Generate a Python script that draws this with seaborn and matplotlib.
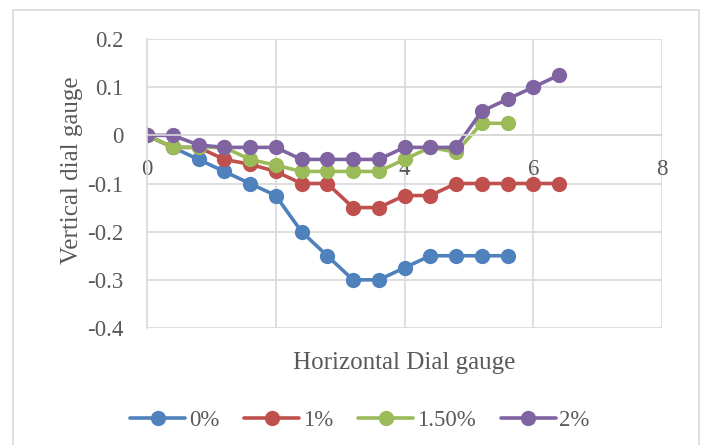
import numpy as np
import pandas as pd
import matplotlib
matplotlib.use('Agg')
import matplotlib.pyplot as plt
import seaborn as sns
from matplotlib.patches import Rectangle

# horizontal dial gauge readings
x_0 = [0, 0.4, 0.8, 1.2, 1.6, 2.0, 2.4, 2.8, 3.2, 3.6, 4.0, 4.4, 4.8, 5.2, 5.6]
x_1 = [0, 0.4, 0.8, 1.2, 1.6, 2.0, 2.4, 2.8, 3.2, 3.6, 4.0, 4.4, 4.8, 5.2, 5.6, 6.0, 6.4]
x_15 = [0, 0.4, 0.8, 1.2, 1.6, 2.0, 2.4, 2.8, 3.2, 3.6, 4.0, 4.4, 4.8, 5.2, 5.6]
x_2 = [0, 0.4, 0.8, 1.2, 1.6, 2.0, 2.4, 2.8, 3.2, 3.6, 4.0, 4.4, 4.8, 5.2, 5.6, 6.0, 6.4]

# vertical dial gauge readings
y_0 = [0, -0.025, -0.05, -0.075, -0.1, -0.125, -0.2, -0.25, -0.3, -0.3, -0.275, -0.25, -0.25, -0.25, -0.25]
y_1 = [0, -0.025, -0.025, -0.05, -0.06, -0.075, -0.1, -0.1, -0.15, -0.15, -0.125, -0.125, -0.1, -0.1, -0.1, -0.1, -0.1]
y_15 = [0, -0.025, -0.025, -0.025, -0.05, -0.062, -0.075, -0.075, -0.075, -0.075, -0.05, -0.025, -0.035, 0.025, 0.025]
y_2 = [0, 0, -0.02, -0.025, -0.025, -0.025, -0.05, -0.05, -0.05, -0.05, -0.025, -0.025, -0.025, 0.05, 0.075, 0.1, 0.125]

labels = ['0%', '1%', '1.50%', '2%']
colors = ['#4F81BD', '#C0504D', '#9BBB59', '#8064A2']

frames = []
for lab, xs, ys in zip(labels, [x_0, x_1, x_15, x_2], [y_0, y_1, y_15, y_2]):
    frames.append(pd.DataFrame({'h': xs, 'v': ys, 'series': lab}))
df = pd.concat(frames, ignore_index=True)

sns.set_style('white')
plt.rcParams['font.family'] = ['Liberation Serif', 'DejaVu Serif']
text_color = '#595959'

fig = plt.figure(figsize=(7.03, 4.45), dpi=100)
ax = fig.add_axes([147 / 703, 1 - 328 / 445, 515 / 703, 289 / 445])

sns.lineplot(data=df, x='h', y='v', hue='series', hue_order=labels, palette=colors,
             marker='o', markersize=11, markeredgewidth=0, linewidth=2.6,
             sort=False, ax=ax, legend=True)

ax.set_xlim(0, 8)
ax.set_ylim(-0.4, 0.2)
ax.set_xticks([0, 2, 4, 6, 8])
ax.set_yticks([-0.4, -0.3, -0.2, -0.1, 0, 0.1, 0.2])
ax.set_yticklabels(['-0.4', '-0.3', '-0.2', '-0.1', '0', '0.1', '0.2'])
ax.grid(True, color='#D9D9D9', linewidth=1.2)
ax.set_axisbelow(True)

for s in ['top', 'right']:
    ax.spines[s].set_visible(False)
ax.spines['bottom'].set_position(('data', 0))
ax.spines['bottom'].set_color('#D9D9D9')
ax.spines['bottom'].set_linewidth(1.2)
ax.spines['left'].set_color('#D9D9D9')
ax.spines['left'].set_linewidth(1.2)
ax.tick_params(axis='y', length=0, pad=17, labelsize=16.5, labelcolor=text_color)
ax.tick_params(axis='x', length=0, pad=17, labelsize=16.5, labelcolor=text_color)

ax.set_xlabel('Horizontal Dial gauge', fontsize=18, color=text_color)
ax.xaxis.set_label_coords(0.5, 1 - (352 - 39) / 289)
ax.set_ylabel('Vertical dial gauge', fontsize=18, color=text_color, va='center')
ax.yaxis.set_label_coords((72 - 147) / 515, 1 - (170 - 39) / 289)

handles, _ = ax.get_legend_handles_labels()
ax.legend(handles, labels, loc='center', bbox_to_anchor=(360 / 703, 1 - 420 / 445),
          bbox_transform=fig.transFigure, ncol=4, frameon=False, fontsize=16.5,
          handlelength=2.4, handletextpad=0.15, columnspacing=1.1, labelcolor=text_color,
          borderpad=0)

fig.patches.append(Rectangle((13 / 703, -0.01), 686 / 703, 1 - 10 / 445 + 0.01,
                             transform=fig.transFigure, fill=False,
                             edgecolor='#D9D9D9', linewidth=1.2))

fig.savefig('out.png', dpi=100)
